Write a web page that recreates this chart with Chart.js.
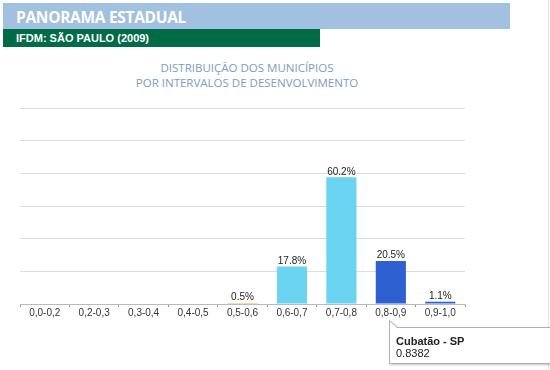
<!DOCTYPE html>
<html>
<head>
<meta charset="utf-8">
<script src="https://cdn.jsdelivr.net/npm/chart.js@4.4.0/dist/chart.umd.min.js"></script>
<style>
    body { margin: 0; background: #fff; width: 550px; height: 370px; overflow: hidden; position: relative; font-family: Arial, 'Liberation Sans', sans-serif; }
    .band-top { position: absolute; left: 3px; top: 3px; width: 507px; height: 26px; background: #a2c0df; }
    .band-top span { position: absolute; left: 13px; top: 3px; color: #fff; font: bold 15.5px 'Open Sans', Arial, sans-serif; letter-spacing: -0.3px; }
    .band-sub { position: absolute; left: 3px; top: 29px; width: 317px; height: 18px; background: #006b47; }
    .band-sub span { position: absolute; left: 13px; top: 3px; color: #fff; font: bold 11px 'Liberation Sans Narrow', 'Arial Narrow', Arial, sans-serif; }
    .title { position: absolute; left: 0; width: 494px; top: 60px; text-align: center; color: #7d9cbf; font: 11.5px 'Open Sans', Lato, sans-serif; line-height: 15px; }
    .edge { position: absolute; left: 548px; top: 0; width: 1px; height: 370px; background: #e4e4e4; }
    #wrap { position: absolute; left: 0; top: 0; width: 550px; height: 370px; }
    #tip { position: absolute; left: 0; top: 0; }
    .tip-text { position: absolute; left: 396px; top: 335px; font: 11px Arial, sans-serif; color: #222; line-height: 12px; }
</style>
</head>
<body>
<div class="band-top"><span>PANORAMA ESTADUAL</span></div>
<div class="band-sub"><span>IFDM: SÃO PAULO (2009)</span></div>
<div class="title">DISTRIBUIÇÃO DOS MUNICÍPIOS<br>POR INTERVALOS DE DESENVOLVIMENTO</div>
<div class="edge"></div>
<div id="wrap"><canvas id="chart"></canvas></div>
<svg id="tip" width="550" height="370">
    <defs>
        <filter id="sh" x="-10%" y="-20%" width="130%" height="160%">
            <feDropShadow dx="1" dy="1" stdDeviation="1.2" flood-color="#000" flood-opacity="0.25"/>
        </filter>
    </defs>
    <path d="M389.5,327.5 L389.5,320.5 L397,327.5 L560,327.5 L560,363.5 L389.5,363.5 Z" fill="#fff" stroke="#b0b0b0" stroke-width="1" filter="url(#sh)"/>
</svg>
<div class="tip-text"><b>Cubatão - SP</b><br>0.8382</div>

<script>
// ===== DATA =====
const intervals = ['0,0-0,2', '0,2-0,3', '0,3-0,4', '0,4-0,5', '0,5-0,6', '0,6-0,7', '0,7-0,8', '0,8-0,9', '0,9-1,0'];
const municipios = [0, 0, 0, 0, 3, 115, 388, 132, 7]; // 645 municípios
const barColors = ['#f2b53c', '#f2b53c', '#f2b53c', '#f2b53c', '#f2b53c', '#6bd4f0', '#6bd4f0', '#2f60d2', '#2f60d2'];
const yMax = 600;
const yStep = 100;

const total = municipios.reduce((a, b) => a + b, 0);

// ===== PERCENT LABELS =====
const percentLabels = {
    id: 'percentLabels',
    afterDatasetsDraw(chart) {
        const ctx = chart.ctx;
        const meta = chart.getDatasetMeta(0);
        ctx.save();
        ctx.font = '10px Arial, sans-serif';
        ctx.fillStyle = '#222';
        ctx.textAlign = 'center';
        ctx.textBaseline = 'bottom';
        meta.data.forEach((bar, i) => {
            const v = municipios[i];
            if (!v) return;
            const pct = (v / total * 100).toFixed(1) + '%';
            ctx.fillText(pct, bar.x, bar.y - 0.5);
        });
        ctx.restore();
    }
};

new Chart(document.getElementById('chart'), {
    type: 'bar',
    data: {
        labels: intervals,
        datasets: [{
            data: municipios,
            backgroundColor: barColors,
            borderWidth: 0,
            barPercentage: 0.61,
            categoryPercentage: 1
        }]
    },
    options: {
        responsive: true,
        maintainAspectRatio: false,
        animation: false,
        layout: { padding: { left: 20, right: 85, top: 108, bottom: 51 } },
        plugins: {
            legend: { display: false },
            tooltip: { enabled: false }
        },
        scales: {
            x: {
                grid: { display: true, drawOnChartArea: false, tickLength: 3, color: '#999' },
                border: { color: '#bbb' },
                ticks: { color: '#333', font: { size: 10, family: 'Arial' }, padding: 0, maxRotation: 0 }
            },
            y: {
                min: 0,
                max: yMax,
                ticks: { display: false, stepSize: yStep },
                grid: { color: '#dcdcdc', drawTicks: false },
                border: { display: false }
            }
        }
    },
    plugins: [percentLabels]
});
</script>
</body>
</html>
